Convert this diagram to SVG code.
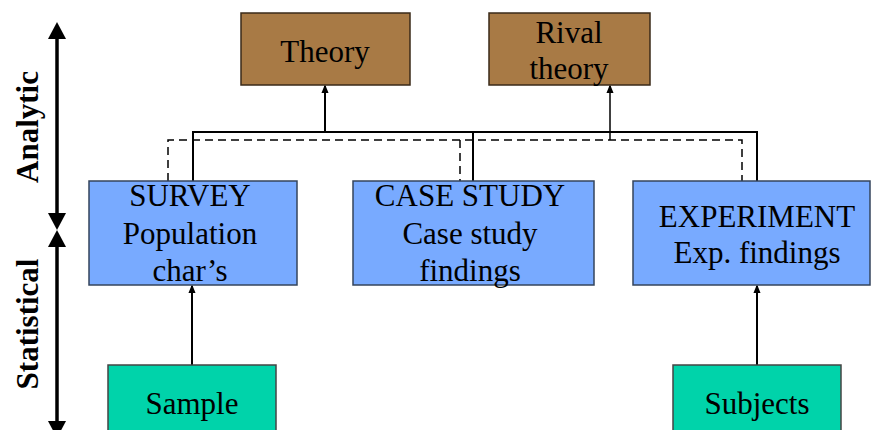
<svg xmlns="http://www.w3.org/2000/svg" width="871" height="430" viewBox="0 0 871 430">
<style>
text{font-family:"Liberation Serif","Times New Roman",serif;font-size:31px;fill:#000;text-anchor:middle}
.ax{font-weight:bold}
.brown{fill:#A87A45;stroke:#3a2a18;stroke-width:1.5}
.blue{fill:#78AAFF;stroke:#34445c;stroke-width:1.5}
.green{fill:#00D3AA;stroke:#444;stroke-width:1.5}
.solid{fill:none;stroke:#000;stroke-width:2}
.dash{fill:none;stroke:#000;stroke-width:1.5;stroke-dasharray:8 5}
.axis{stroke:#000;stroke-width:3.5;fill:none}
.head{fill:#000}
</style>
<defs>
<marker id="ah" markerWidth="9" markerHeight="11" refX="9" refY="4.5" orient="auto" markerUnits="userSpaceOnUse" viewBox="0 0 11 9">
<path d="M0,0 L11,4.5 L0,9 Z" fill="#000"/>
</marker>
</defs>

<g id="axis-analytic">
<line class="axis" x1="57" y1="36" x2="57" y2="216"/>
<path class="head" d="M57,22 L66,39 L48,39 Z"/>
<path class="head" d="M57,230 L66,213 L48,213 Z"/>
<text class="ax" transform="translate(38,127) rotate(-90)">Analytic</text>
</g>
<g id="axis-statistical">
<line class="axis" x1="57" y1="244" x2="57" y2="440"/>
<path class="head" d="M57,230 L66,247 L48,247 Z"/>
<path class="head" d="M57,438 L66,421 L48,421 Z"/>
<text class="ax" transform="translate(38,324) rotate(-90)">Statistical</text>
</g>

<g id="connectors">
<polyline class="solid" points="193,181 193,132 757,132 757,181"/>
<line class="solid" x1="473" y1="132" x2="473" y2="181"/>
<line class="solid" x1="325" y1="132" x2="325" y2="86" marker-end="url(#ah)"/>
<polyline class="dash" points="168,181 168,140 742,140 742,181"/>
<line class="dash" x1="460" y1="140" x2="460" y2="181"/>
<line x1="610" y1="140" x2="610" y2="86" stroke="#000" stroke-width="1.5" marker-end="url(#ah)"/>
<line class="solid" x1="192" y1="365" x2="192" y2="286" marker-end="url(#ah)"/>
<line class="solid" x1="757" y1="365" x2="757" y2="286" marker-end="url(#ah)"/>
</g>

<g id="theory">
<rect class="brown" x="241" y="13" width="169" height="72"/>
<text x="325" y="62">Theory</text>
</g>
<g id="rival-theory">
<rect class="brown" x="489" y="13" width="161" height="72"/>
<text x="569" y="43">Rival</text>
<text x="569" y="79">theory</text>
</g>
<g id="survey">
<rect class="blue" x="89" y="181" width="208" height="104"/>
<text x="190" y="206">SURVEY</text>
<text x="190" y="244">Population</text>
<text x="190" y="281">char’s</text>
</g>
<g id="case-study">
<rect class="blue" x="353" y="181" width="241" height="104"/>
<text x="470" y="206">CASE STUDY</text>
<text x="470" y="244">Case study</text>
<text x="470" y="281">findings</text>
</g>
<g id="experiment">
<rect class="blue" x="633" y="181" width="237" height="104"/>
<text x="757" y="227">EXPERIMENT</text>
<text x="757" y="263">Exp. findings</text>
</g>
<g id="sample">
<rect class="green" x="108" y="365" width="168" height="70"/>
<text x="192" y="414">Sample</text>
</g>
<g id="subjects">
<rect class="green" x="673" y="365" width="168" height="70"/>
<text x="757" y="414">Subjects</text>
</g>
</svg>
